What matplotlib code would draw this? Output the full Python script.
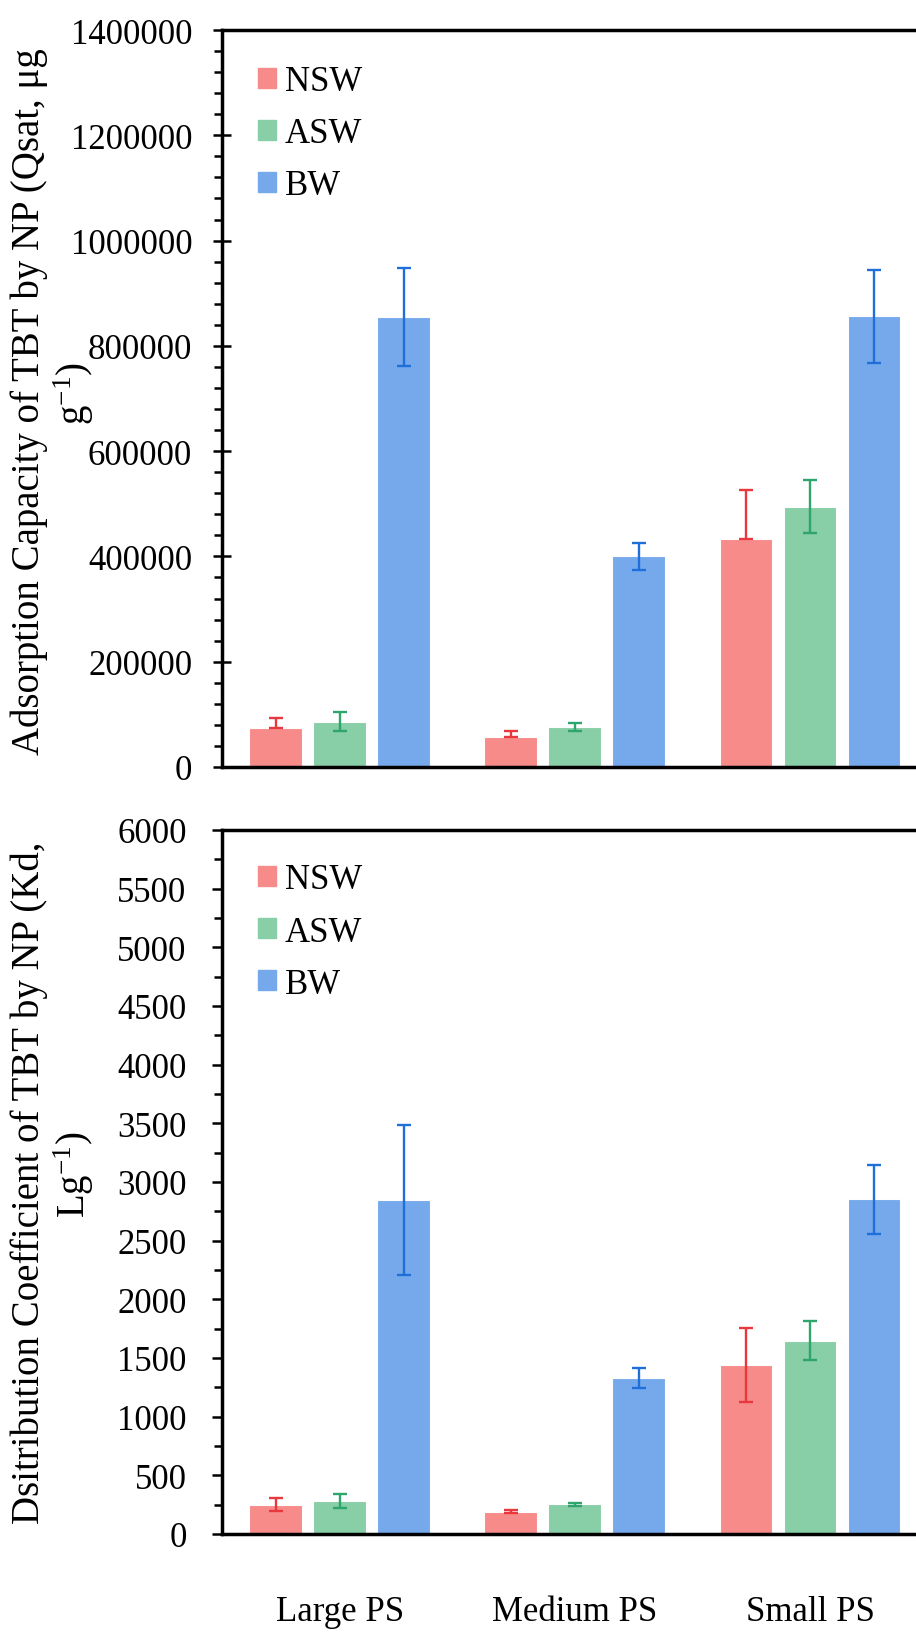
import matplotlib
matplotlib.use('Agg')
import matplotlib.pyplot as plt
import matplotlib.patches as mpatches
from matplotlib.ticker import FormatStrFormatter
import numpy as np

# data
categories = ['Large PS', 'Medium PS', 'Small PS']
series = ['NSW', 'ASW', 'BW']

qsat_nsw = [75000, 57000, 433000]
qsat_nsw_err_lo = [0, 0, 0]
qsat_nsw_err_hi = [18500, 11000, 94000]
qsat_asw = [86000, 76000, 494500]
qsat_asw_err = [18500, 8000, 50000]
qsat_bw = [855000, 400000, 856000]
qsat_bw_err = [93000, 25000, 88000]

kd_nsw = [250, 190, 1442]
kd_nsw_err = [58, 12, 316]
kd_asw = [285, 252, 1648]
kd_asw_err = [60, 13, 166]
kd_bw = [2845, 1329, 2851]
kd_bw_err = [638, 83, 295]

ylabel_top = ['Adsorption Capacity of TBT by NP (Qsat, μg', 'g$^{-1}$)']
ylabel_bottom = ['Dsitribution Coefficient of TBT by NP (Kd,', 'Lg$^{-1}$)']

fill_colors = ['#F78B8A', '#88CEA6', '#76A9EB']
err_colors = ['#E8383D', '#2EA56A', '#1F6FDB']

plt.rcParams['font.family'] = ['Liberation Serif', 'DejaVu Serif']
plt.rcParams['mathtext.fontset'] = 'custom'
plt.rcParams['mathtext.rm'] = 'Liberation Serif'
plt.rcParams['mathtext.it'] = 'Liberation Serif:italic'

FS = 25
W, H = 916, 1633
fig = plt.figure(figsize=(W / 100, H / 100), dpi=100)

ax_w = 705.6 / W
ax1 = fig.add_axes([222 / W, 1 - 768 / H, ax_w, (768 - 31) / H])
ax2 = fig.add_axes([222 / W, 1 - 1535 / H, ax_w, (1535 - 831) / H])

x = np.arange(len(categories))
width = 0.225
step = 0.272


def draw_bars(ax, vals_list, errs_list):
    for i, (v, e) in enumerate(zip(vals_list, errs_list)):
        ax.bar(x + (i - 1) * step, v, width, color=fill_colors[i],
               edgecolor='#fdfdfd', linewidth=0.8, label=series[i], zorder=2)
        ax.errorbar(x + (i - 1) * step, v, yerr=e, fmt='none',
                    ecolor=err_colors[i], elinewidth=1.7, capsize=5,
                    capthick=1.7, zorder=3)


def style_axes(ax, ymax, major, minor, inout):
    ax.set_xlim(-0.5, 2.5)
    ax.set_ylim(0, ymax)
    ax.set_yticks(np.arange(0, ymax + 1, major))
    ax.set_yticks(np.arange(0, ymax + 1, minor), minor=True)
    ax.yaxis.set_major_formatter(FormatStrFormatter('%d'))
    for s in ['left', 'bottom', 'top']:
        ax.spines[s].set_linewidth(2.5)
    ax.spines['right'].set_visible(False)
    if inout:
        ax.tick_params(axis='y', which='major', direction='inout', length=13, width=1.8,
                       labelsize=FS, pad=15)
    else:
        ax.tick_params(axis='y', which='major', direction='out', length=7.5, width=1.8,
                       labelsize=FS, pad=18)
    ax.tick_params(axis='y', which='minor', direction='out', length=6, width=1.8)
    ax.tick_params(axis='x', length=0)
    leg_handles = [mpatches.Patch(color=c, label=s) for c, s in zip(fill_colors, series)]
    ax.legend(handles=leg_handles, loc='upper left', frameon=False, fontsize=FS,
              bbox_to_anchor=((258 - 222) / 705.6, 1 - 35 / 737),
              borderpad=0, borderaxespad=0, handlelength=0.52, handleheight=0.52,
              handletextpad=0.25, labelspacing=0.55)


draw_bars(ax1, [qsat_nsw, qsat_asw, qsat_bw],
          [[qsat_nsw_err_lo, qsat_nsw_err_hi], qsat_asw_err, qsat_bw_err])
draw_bars(ax2, [kd_nsw, kd_asw, kd_bw], [kd_nsw_err, kd_asw_err, kd_bw_err])

style_axes(ax1, 1400000, 200000, 40000, True)
style_axes(ax2, 6000, 500, 250, False)
ax1.set_xticks(x)
ax1.set_xticklabels([])
ax2.set_xticks(x)
ax2.set_xticklabels(categories, fontsize=FS)
ax2.tick_params(axis='x', pad=44)

# two-line y labels, each line placed on its own
for lines, yc in [(ylabel_top, 402), (ylabel_bottom, 1183)]:
    fig.text(29 / W, 1 - yc / H, lines[0], rotation=90, ha='center', va='center',
             fontsize=28)
    fig.text(74 / W, 1 - (yc - 8) / H, lines[1], rotation=90, ha='center', va='center',
             fontsize=28)

fig.savefig('out.png', dpi=100)
